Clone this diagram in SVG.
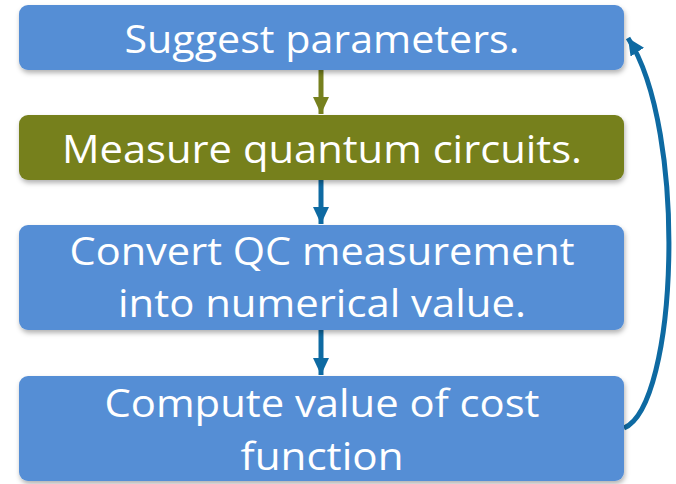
<svg xmlns="http://www.w3.org/2000/svg" width="676" height="484" viewBox="0 0 676 484">
<defs>
<style>
.box{fill:#558ED5;}
.olive{fill:#76801E;}
.t{font-family:"Open Sans","Liberation Sans",sans-serif;font-size:38px;fill:#ffffff;text-anchor:middle;}
.ln{fill:none;stroke-width:5;}
</style>
<filter id="sh" x="-5%" y="-10%" width="110%" height="130%">
<feDropShadow dx="1" dy="3" stdDeviation="2.5" flood-color="#000" flood-opacity="0.3"/>
</filter>
<marker id="ao" markerUnits="userSpaceOnUse" markerWidth="18" markerHeight="16" refX="17" refY="8" orient="auto">
<path d="M0,0 L17,8 L0,16 Z" fill="#76801E"/>
</marker>
<marker id="ab" markerUnits="userSpaceOnUse" markerWidth="18" markerHeight="16" refX="17" refY="8" orient="auto">
<path d="M0,0 L17,8 L0,16 Z" fill="#0E6AA2"/>
</marker>
</defs>
<g id="connectors">
<line class="ln" x1="321" y1="70" x2="321" y2="114" stroke="#76801E" marker-end="url(#ao)"/>
<line class="ln" x1="321" y1="180" x2="321" y2="224" stroke="#0E6AA2" marker-end="url(#ab)"/>
<line class="ln" x1="321" y1="330" x2="321" y2="375" stroke="#0E6AA2" marker-end="url(#ab)"/>
<path class="ln" d="M624,428 C678,405 688,130 628,38" stroke="#0E6AA2" stroke-width="4" marker-end="url(#ab)"/>
</g>
<g id="n1">
<rect class="box" x="19" y="5" width="605" height="65" rx="9" filter="url(#sh)"/>
<text class="t" x="322" y="53" textLength="395" lengthAdjust="spacingAndGlyphs">Suggest parameters.</text>
</g>
<g id="n2">
<rect class="olive" x="19" y="115" width="605" height="65" rx="9" filter="url(#sh)"/>
<text class="t" x="322" y="163" textLength="520" lengthAdjust="spacingAndGlyphs">Measure quantum circuits.</text>
</g>
<g id="n3">
<rect class="box" x="19" y="225" width="605" height="105" rx="9" filter="url(#sh)"/>
<text class="t" x="322" y="265" textLength="505" lengthAdjust="spacingAndGlyphs">Convert QC measurement</text>
<text class="t" x="322" y="317" textLength="408" lengthAdjust="spacingAndGlyphs">into numerical value.</text>
</g>
<g id="n4">
<rect class="box" x="19" y="376" width="605" height="105" rx="9" filter="url(#sh)"/>
<text class="t" x="322" y="417" textLength="435" lengthAdjust="spacingAndGlyphs">Compute value of cost</text>
<text class="t" x="322" y="470" textLength="163" lengthAdjust="spacingAndGlyphs">function</text>
</g>
</svg>
